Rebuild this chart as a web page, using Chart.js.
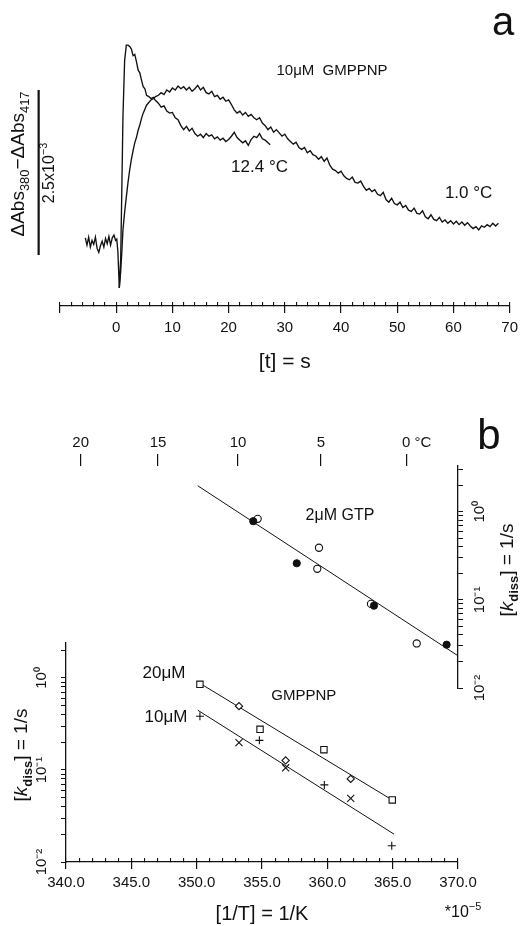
<!DOCTYPE html>
<html>
<head>
<meta charset="utf-8">
<script src="https://cdn.jsdelivr.net/npm/chart.js@4.4.1/dist/chart.umd.min.js"></script>
<style>
  html, body { margin: 0; padding: 0; background: #fff; }
  body { width: 524px; height: 926px; position: relative; overflow: hidden; }
  canvas { position: absolute; left: 0; }
  #ca { top: 0; }
  #cb1 { top: 400px; }
  #cb2 { top: 620px; }
</style>
</head>
<body>
<canvas id="cb2" width="524" height="306"></canvas>
<canvas id="cb1" width="524" height="302"></canvas>
<canvas id="ca" width="524" height="390"></canvas>
<script>
// ---- panel a : stopped-flow traces, dAbs in units of 1e-3 ----
const fastT = [-5.5, -5.2, -4.9, -4.6, -4.3, -4.0, -3.7, -3.4, -3.1, -2.8, -2.5, -2.2, -1.9, -1.6, -1.3, -1.0, -0.7, -0.4, -0.1,
  0.1, 0.3, 0.55, 0.8, 1.0, 1.2, 1.5, 1.8, 2.1, 2.4, 2.7, 3.0, 3.3, 3.6, 3.9, 4.2, 4.5, 4.8, 5.1, 5.4, 5.8, 6.2, 6.6, 7.0,
  7.5, 8.0, 8.5, 9.0, 9.5, 10.0, 10.5, 11.0, 11.5, 12.0, 12.5, 13.0, 13.5, 14.0, 14.5, 15.0, 15.5, 16.0, 16.5, 17.0,
  17.5, 18.0, 18.5, 19.0, 19.5, 20.0, 20.5, 21.0, 21.5, 22.0, 22.5, 23.0, 23.5, 24.0, 24.5, 25.0, 25.5, 26.0, 26.5, 27.0, 27.4];
const fastAbs = [0.26, 0.15, 0.27, 0.12, 0.22, 0.16, 0.27, 0.10, 0.04, 0.14, 0.21, 0.12, 0.25, 0.17, 0.28, 0.15, 0.26, 0.30, 0.22,
  0.24, 0.05, -0.50, -0.05, 1.0, 2.1, 2.95, 3.18, 3.18, 3.16, 3.12, 3.02, 3.04, 2.93, 2.80, 2.76, 2.65, 2.55, 2.52, 2.42, 2.40, 2.37, 2.39, 2.34,
  2.30, 2.24, 2.26, 2.18, 2.15, 2.16, 2.08, 2.05, 1.96, 1.90, 1.95, 1.88, 1.92, 1.84, 1.80, 1.83, 1.78, 1.84, 1.80, 1.82,
  1.76, 1.79, 1.74, 1.77, 1.72, 1.75, 1.80, 1.86, 1.78, 1.74, 1.70, 1.73, 1.66, 1.75, 1.80, 1.78, 1.84, 1.76, 1.74, 1.70, 1.67];

const slowT = [0.55, 0.8, 1.0, 1.2, 1.5, 1.8, 2.1, 2.4, 2.7, 3.0, 3.3, 3.6, 3.9, 4.2, 4.5, 4.8, 5.1, 5.4, 5.8, 6.2, 6.6, 7.0,
  7.5, 8.0, 8.5, 9.0, 9.5, 10.0, 10.5, 11.0, 11.5, 12.0, 12.5, 13.0, 13.5, 14.0, 14.5, 15.0, 15.5, 16.0, 16.5, 17.0,
  17.5, 18.0, 18.5, 19.0, 19.5, 20.0, 20.5, 21.0, 21.5, 22.0, 22.5, 23.0, 23.5, 24.0, 24.5, 25.0, 25.5, 26.0, 26.5, 27.0,
  27.5, 28.0, 28.5, 29.0, 29.5, 30.0, 30.5, 31.0, 31.5, 32.0, 32.5, 33.0, 33.5, 34.0, 34.5, 35.0, 35.5, 36.0, 36.5, 37.0,
  37.5, 38.0, 38.5, 39.0, 39.5, 40.0, 40.5, 41.0, 41.5, 42.0, 42.5, 43.0, 43.5, 44.0, 44.5, 45.0, 45.5, 46.0, 46.5, 47.0,
  47.5, 48.0, 48.5, 49.0, 49.5, 50.0, 50.5, 51.0, 51.5, 52.0, 52.5, 53.0, 53.5, 54.0, 54.5, 55.0, 55.5, 56.0, 56.5, 57.0,
  57.5, 58.0, 58.5, 59.0, 59.5, 60.0, 60.5, 61.0, 61.5, 62.0, 62.5, 63.0, 63.5, 64.0, 64.5, 65.0, 65.5, 66.0, 66.5, 67.0,
  67.5, 68.0];
const slowAbs = [-0.50, -0.25, 0.05, 0.38, 0.65, 0.88, 1.10, 1.29, 1.45, 1.58, 1.70, 1.78, 1.89, 1.97, 2.07, 2.15, 2.21, 2.27, 2.31, 2.35, 2.37, 2.40,
  2.42, 2.46, 2.43, 2.50, 2.47, 2.53, 2.50, 2.56, 2.52, 2.55, 2.50, 2.54, 2.48, 2.52, 2.57, 2.50, 2.54, 2.46, 2.44, 2.48,
  2.40, 2.42, 2.36, 2.39, 2.33, 2.35, 2.28, 2.20, 2.15, 2.18, 2.12, 2.16, 2.10, 2.13, 2.08, 2.05, 2.08, 2.00, 1.96, 1.90,
  1.94, 1.86, 1.90, 1.85, 1.80, 1.83, 1.76, 1.72, 1.68, 1.71, 1.63, 1.60, 1.63, 1.55, 1.58, 1.52, 1.50, 1.45, 1.49, 1.42,
  1.47, 1.36, 1.30, 1.28, 1.24, 1.27, 1.20, 1.16, 1.14, 1.18, 1.10, 1.09, 1.12, 1.04, 0.98, 1.01, 0.96, 0.99, 0.92, 0.90,
  0.95, 0.84, 0.80, 0.86, 0.78, 0.76, 0.80, 0.72, 0.75, 0.68, 0.66, 0.71, 0.63, 0.62, 0.67, 0.58, 0.55, 0.61, 0.54, 0.52,
  0.57, 0.50, 0.53, 0.48, 0.52, 0.47, 0.51, 0.46, 0.50, 0.45, 0.49, 0.44, 0.40, 0.43, 0.38, 0.44, 0.42, 0.46, 0.43, 0.48,
  0.44, 0.48];

// 2.5e-3 scale bar drawn left of the time axis
const scaleBarT = [-13.8, -13.8];
const scaleBarAbs = [0, 2.5];

const timeTicks = [-10, 0, 10, 20, 30, 40, 50, 60, 70];
const timeTickLabels = ['', '0', '10', '20', '30', '40', '50', '60', '70'];

// ---- panel b : Arrhenius plots, x = 1/T * 1e5 ----
const gtpFilledInvT = [354.33, 357.66, 363.57, 369.13];
const gtpFilledK = [0.78, 0.26, 0.086, 0.031];
const gtpOpenInvT = [354.67, 359.36, 359.23, 363.34, 366.84];
const gtpOpenK = [0.83, 0.39, 0.225, 0.090, 0.032];
const gtpFitInvT = [350.08, 370.02];
const gtpFitK = [1.97, 0.0231];

const sq20InvT = [350.25, 354.85, 359.74, 364.97];
const sq20K = [0.853, 0.277, 0.166, 0.0472];
const dia20InvT = [353.24, 356.81, 361.79];
const dia20K = [0.494, 0.127, 0.080];
const fit20InvT = [350.25, 365.05];
const fit20K = [0.875, 0.0464];

const plus10InvT = [350.25, 354.80, 359.77, 364.93];
const plus10K = [0.384, 0.210, 0.0689, 0.0150];
const cross10InvT = [353.24, 356.81, 361.79];
const cross10K = [0.198, 0.1057, 0.0492];
const fit10InvT = [350.08, 365.10];
const fit10K = [0.447, 0.0201];

const invTTicks = [340, 345, 350, 355, 360, 365, 370];
const invTTickLabels = ['340.0', '345.0', '350.0', '355.0', '360.0', '365.0', '370.0'];
const tempC = [20, 15, 10, 5, 0];
const tempLabels = ['20', '15', '10', '5', '\u2003 0 °C'];
const kDecades = [1, 0.1, 0.01];
const kDecadeLabels = ['10⁰', '10⁻¹', '10⁻²'];

const INK = '#111';
const FAMILY = "'Liberation Sans', Arial, sans-serif";

Chart.defaults.font.family = FAMILY;
Chart.defaults.color = INK;
Chart.defaults.animation = false;
Chart.defaults.plugins.legend.display = false;
Chart.defaults.plugins.tooltip.enabled = false;

const pts = (xs, ys) => xs.map((x, i) => ({x: x, y: ys[i]}));

function drawRich(ctx, parts, size, x, y, rot) {
  ctx.save();
  ctx.translate(x, y);
  ctx.rotate(rot || 0);
  ctx.textBaseline = 'middle';
  ctx.textAlign = 'left';
  ctx.fillStyle = INK;
  const fonts = parts.map(p => (p[2] || '') + ' ' + (p[1] ? size * 0.68 : size) + 'px ' + FAMILY);
  let w = 0;
  parts.forEach((p, i) => { ctx.font = fonts[i]; w += ctx.measureText(p[0]).width; });
  let cx = -w / 2;
  parts.forEach((p, i) => {
    ctx.font = fonts[i];
    const dy = p[1] === 'sub' ? size * 0.32 : p[1] === 'sup' ? -size * 0.38 : 0;
    ctx.fillText(p[0], cx, dy);
    cx += ctx.measureText(p[0]).width;
  });
  ctx.restore();
}

// text placed either at data values (at) or at canvas pixels (px, py)
function notes(items) {
  return {
    id: 'notes',
    afterDraw(chart) {
      items.forEach(n => {
        let x = n.px, y = n.py;
        if (n.at) {
          x = chart.scales.x.getPixelForValue(n.at[0]);
          y = chart.scales.y.getPixelForValue(n.at[1]);
        }
        drawRich(chart.ctx, n.parts, n.size, x, y, n.rot);
      });
    }
  };
}

function setTicks(values) {
  return scale => { scale.ticks = values.map(v => ({value: v})); };
}

function logTicks(scale) {
  const out = [];
  for (let e = -3; e <= 1; e++) {
    for (let m = 1; m <= 9; m++) {
      const v = +(m * Math.pow(10, e)).toPrecision(3);
      if (v >= scale.min * 0.999 && v <= scale.max * 1.001) out.push({value: v, major: m === 1});
    }
  }
  scale.ticks = out;
}

function decadeLabel(v) {
  const i = kDecades.indexOf(v);
  return i < 0 ? '' : kDecadeLabels[i];
}

const line = (data, w) => ({
  data: data, showLine: true, pointRadius: 0, borderColor: INK, borderWidth: w, xAxisID: 'x', yAxisID: 'y'
});

// ---------------- panel a ----------------
new Chart(document.getElementById('ca'), {
  type: 'scatter',
  data: {
    datasets: [
      line(pts(fastT, fastAbs), 1.35),
      line(pts(slowT, slowAbs), 1.35),
      {
        data: pts(scaleBarT, scaleBarAbs), showLine: true, borderColor: INK, borderWidth: 2.2,
        pointStyle: 'line', pointRadius: 6, pointBorderWidth: 2, pointBorderColor: INK,
        clip: false, xAxisID: 'x', yAxisID: 'y'
      }
    ]
  },
  options: {
    responsive: false,
    devicePixelRatio: 1,
    layout: {padding: {left: 60, right: 10.7, top: 40, bottom: 0}},
    scales: {
      x: {
        type: 'linear', position: 'bottom', min: -10, max: 70,
        afterFit: s => { s.height = 84; },
        border: {color: INK, width: 1.3},
        grid: {drawOnChartArea: false, tickLength: -4, tickColor: INK, lineWidth: 1.1},
        ticks: {display: false, stepSize: 2, maxTicksLimit: 100},
        title: {display: true, text: '[t] = s', font: {size: 21}, padding: {top: 0, bottom: 15}}
      },
      xMajor: {
        type: 'linear', axis: 'x', position: {y: -0.773}, min: -10, max: 70,
        afterBuildTicks: setTicks(timeTicks),
        border: {display: false},
        grid: {drawOnChartArea: false, tickLength: 7, tickColor: INK, lineWidth: 1.2},
        ticks: {autoSkip: false, maxRotation: 0, padding: 6, font: {size: 15}, callback: (v, i) => timeTickLabels[i]}
      },
      y: {type: 'linear', display: false, min: -0.773, max: 3.258}
    }
  },
  plugins: [notes([
    {at: [38.4, 2.79], size: 15, parts: [['10μM  GMPPNP']]},
    {at: [25.5, 1.33], size: 17, parts: [['12.4 °C']]},
    {at: [62.7, 0.94], size: 17, parts: [['1.0 °C']]},
    {px: 503, py: 24, size: 40, parts: [['a']]},
    {px: 19, py: 164, size: 19, rot: -Math.PI / 2, parts: [['ΔAbs'], ['380', 'sub'], ['−ΔAbs'], ['417', 'sub']]},
    {px: 50, py: 173, size: 16, rot: -Math.PI / 2, parts: [['2.5x10'], ['−3', 'sup']]}
  ])]
});

// ---------------- panel b, upper: 2 uM GTP (right axis, temperature on top) ----------------
new Chart(document.getElementById('cb1'), {
  type: 'scatter',
  data: {
    datasets: [
      {data: pts(gtpFilledInvT, gtpFilledK), pointStyle: 'circle', pointRadius: 3.6,
       backgroundColor: INK, borderColor: INK, xAxisID: 'x', yAxisID: 'y'},
      {data: pts(gtpOpenInvT, gtpOpenK), pointStyle: 'circle', pointRadius: 3.6,
       backgroundColor: '#fff', borderColor: INK, borderWidth: 1.1, xAxisID: 'x', yAxisID: 'y'},
      line(pts(gtpFitInvT, gtpFitK), 1)
    ]
  },
  options: {
    responsive: false,
    devicePixelRatio: 1,
    layout: {padding: {left: 66, right: 0, top: 0, bottom: 14}},
    scales: {
      x: {type: 'linear', display: false, min: 340, max: 370},
      temp: {
        type: 'linear', axis: 'x', position: 'top', min: 340, max: 370,
        afterFit: s => { s.height = 66; },
        afterBuildTicks: s => { s.ticks = tempC.map(c => ({value: 1e5 / (273.15 + c)})); },
        border: {display: false},
        grid: {drawOnChartArea: false, tickLength: 12, tickColor: INK, lineWidth: 1.2},
        ticks: {autoSkip: false, maxRotation: 0, padding: 2, font: {size: 15}, callback: (v, i) => tempLabels[i]}
      },
      y: {
        type: 'logarithmic', position: 'right', min: 0.01, max: 3.3,
        afterFit: s => { s.width = 66; },
        afterBuildTicks: logTicks,
        border: {color: INK, width: 1.3},
        grid: {drawOnChartArea: false, tickLength: 5, tickColor: INK, lineWidth: 1},
        ticks: {autoSkip: false, minRotation: 90, maxRotation: 90, crossAlign: 'center', padding: 3.5,
                font: {size: 15}, callback: decadeLabel}
      }
    }
  },
  plugins: [notes([
    {at: [360.97, 0.90], size: 16, parts: [['2μM GTP']]},
    {px: 489, py: 37, size: 42, parts: [['b']]},
    {px: 508, py: 170, size: 19, rot: -Math.PI / 2,
     parts: [['['], ['k', null, 'italic'], ['diss', 'sub', 'bold'], ['] = 1/s']]}
  ])]
});

// ---------------- panel b, lower: GMPPNP ----------------
new Chart(document.getElementById('cb2'), {
  type: 'scatter',
  data: {
    datasets: [
      {data: pts(sq20InvT, sq20K), pointStyle: 'rect', pointRadius: 4.5,
       backgroundColor: '#fff', borderColor: INK, borderWidth: 1.1, xAxisID: 'x', yAxisID: 'y'},
      {data: pts(dia20InvT, dia20K), pointStyle: 'rectRot', pointRadius: 3.6,
       backgroundColor: '#fff', borderColor: INK, borderWidth: 1.1, xAxisID: 'x', yAxisID: 'y'},
      {data: pts(plus10InvT, plus10K), pointStyle: 'cross', pointRadius: 4,
       borderColor: INK, borderWidth: 1.1, xAxisID: 'x', yAxisID: 'y'},
      {data: pts(cross10InvT, cross10K), pointStyle: 'crossRot', pointRadius: 5,
       borderColor: INK, borderWidth: 1.1, xAxisID: 'x', yAxisID: 'y'},
      line(pts(fit20InvT, fit20K), 1),
      line(pts(fit10InvT, fit10K), 1)
    ]
  },
  options: {
    responsive: false,
    devicePixelRatio: 1,
    layout: {padding: {left: 0, right: 66, top: 23, bottom: 0}},
    scales: {
      x: {
        type: 'linear', position: 'bottom', min: 340, max: 370,
        afterFit: s => { s.height = 64; },
        border: {color: INK, width: 1.3},
        grid: {drawOnChartArea: false, tickLength: -4, tickColor: INK, lineWidth: 1.1},
        ticks: {display: false, stepSize: 1, maxTicksLimit: 100},
        title: {display: true, text: '[1/T] = 1/K', font: {size: 20}, padding: {top: 0, bottom: 0}}
      },
      xMajor: {
        type: 'linear', axis: 'x', position: {y: 0.01}, min: 340, max: 370,
        afterBuildTicks: setTicks(invTTicks),
        border: {display: false},
        grid: {drawOnChartArea: false, tickLength: 7, tickColor: INK, lineWidth: 1.2},
        ticks: {autoSkip: false, maxRotation: 0, padding: 5, font: {size: 15}, callback: (v, i) => invTTickLabels[i]}
      },
      y: {
        type: 'logarithmic', position: 'left', min: 0.01, max: 2.4,
        afterFit: s => { s.width = 66; },
        afterBuildTicks: logTicks,
        border: {color: INK, width: 1.3},
        grid: {drawOnChartArea: false, tickLength: 5, tickColor: INK, lineWidth: 1},
        ticks: {autoSkip: false, minRotation: 90, maxRotation: 90, crossAlign: 'center', padding: 6,
                font: {size: 15}, callback: decadeLabel}
      }
    }
  },
  plugins: [notes([
    {at: [347.5, 1.13], size: 17, parts: [['20μM']]},
    {at: [347.65, 0.375], size: 17, parts: [['10μM']]},
    {at: [358.2, 0.636], size: 15, parts: [['GMPPNP']]},
    {px: 22, py: 135, size: 19, rot: -Math.PI / 2,
     parts: [['['], ['k', null, 'italic'], ['diss', 'sub', 'bold'], ['] = 1/s']]},
    {px: 463, py: 293, size: 16, parts: [['*10'], ['−5', 'sup']]}
  ])]
});
</script>
</body>
</html>
